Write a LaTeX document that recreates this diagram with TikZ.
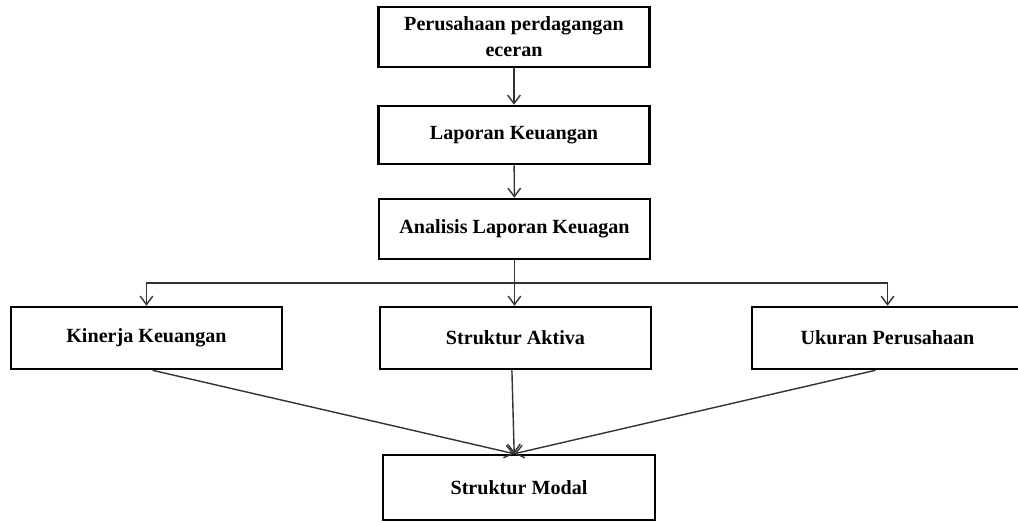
\documentclass[tikz,border=0pt]{standalone}
\usepackage{fontspec}
\setmainfont{Liberation Serif}
\usetikzlibrary{arrows.meta}

\begin{document}
\begin{tikzpicture}[x=0.025cm, y=-0.025cm,
    box/.style={draw, line width=1.8pt, minimum width=6.775cm, minimum height=1.5cm,
        inner sep=0pt, align=center, font=\fontsize{14.3}{18.4}\selectfont\bfseries},
    link/.style={-{Straight Barb[length=6pt, width=9pt]}, line width=1pt, black!80}]
    % Page frame
    \useasboundingbox (0,0) rectangle (1018,522);
    \clip (0,0) rectangle (1018,522);

    % Top chain
    \node[box] (Perusahaan) at (514, 37) {Perusahaan perdagangan\\eceran};
    \node[box, minimum height=1.45cm] (Laporan) at (514, 135) {Laporan Keuangan};
    \node[box] (Analisis) at (514.5, 229) {Analisis Laporan Keuagan};

    % Middle row
    \node[box, minimum height=1.55cm] (Kinerja) at (146.5, 338) {Kinerja Keuangan};
    \node[box, minimum height=1.55cm] (Aktiva) at (515.5, 338) {Struktur Aktiva};
    \node[box, minimum height=1.55cm] (Ukuran) at (887.5, 338) {Ukuran Perusahaan};

    % Bottom box
    \node[box, minimum width=6.8cm, minimum height=1.625cm] (Modal) at (519, 487.5) {Struktur Modal};

    % Branch point below the analysis box
    \coordinate (Bus) at (514, 283);

    % Arrows down the chain
    \draw[link] (Perusahaan) -- (Laporan);
    \draw[link] (Laporan) -- (Analisis);
    \draw[link] (Analisis.south) -- (Aktiva.north -| Analisis.south);
    \draw[link] (Bus) -| (Kinerja.north);
    \draw[link] (Bus) -| (Ukuran.north);

    % Arrows into the capital structure box
    \coordinate (ModalIn) at ([xshift=-0.12cm]Modal.north);
    \draw[link] ([xshift=0.15cm]Kinerja.south) -- (ModalIn);
    \draw[link] ([xshift=-0.09cm]Aktiva.south) -- (ModalIn);
    \draw[link] ([xshift=-0.3cm]Ukuran.south) -- (ModalIn);
\end{tikzpicture}
\end{document}
